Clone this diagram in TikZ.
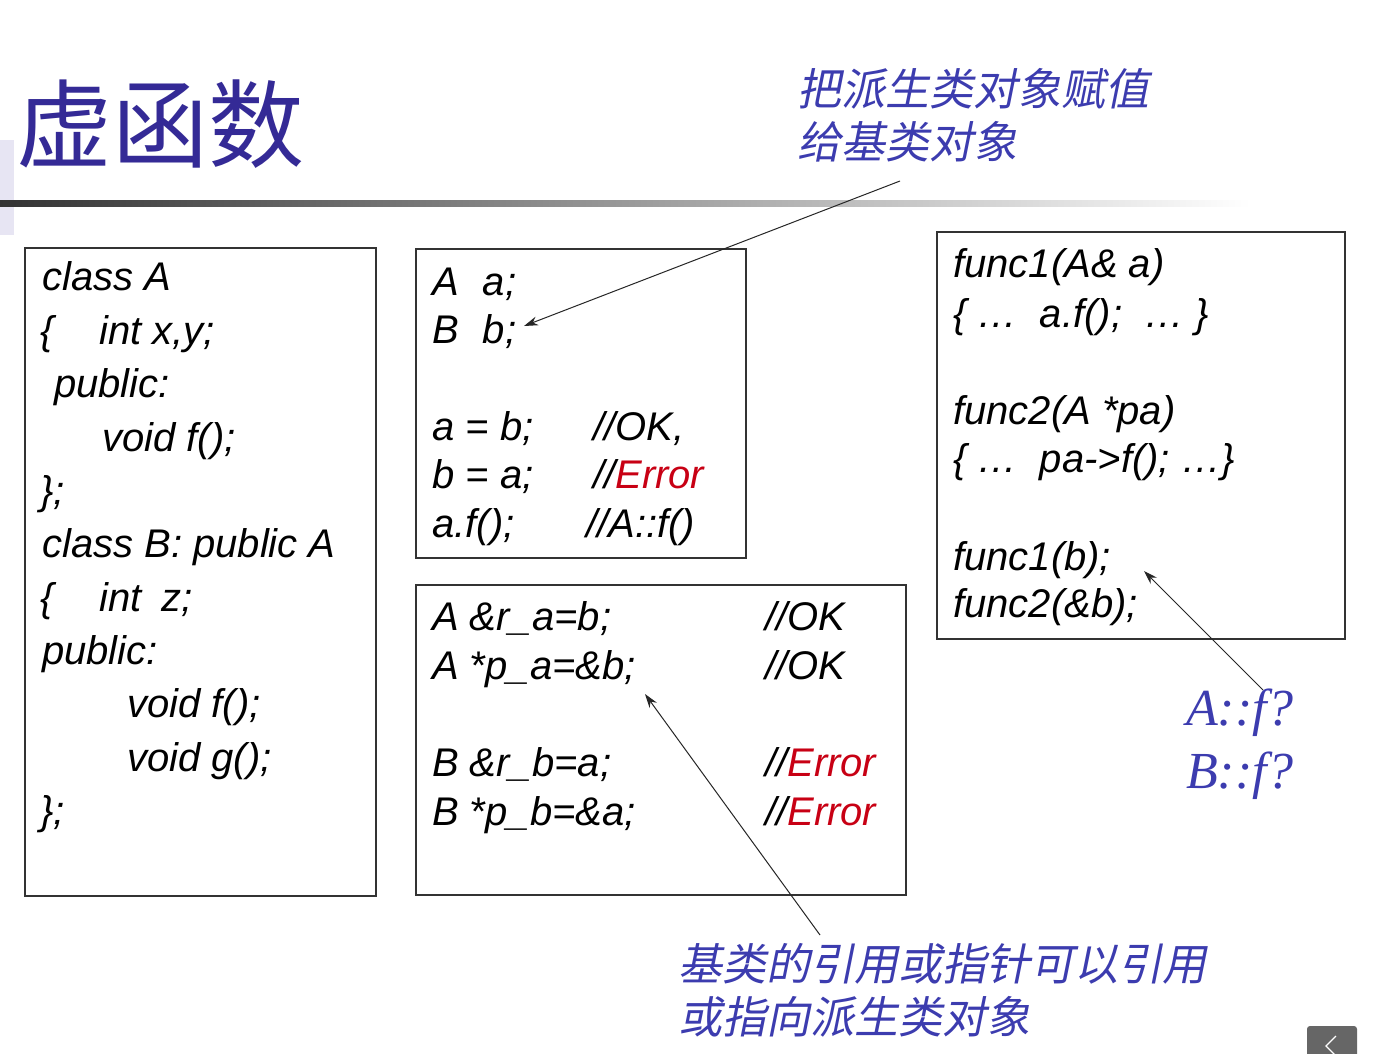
\documentclass[tikz,border=0pt]{standalone}
\usepackage{fontspec}
\usetikzlibrary{arrows.meta}
\setmainfont{Liberation Sans}
\newfontfamily\cjk{Noto Sans CJK SC}
\newfontfamily\cjkit[FakeSlant=0.2]{Noto Sans CJK SC}
\newfontfamily\serifit{Liberation Serif}
\definecolor{ttl}{RGB}{52,42,150}
\definecolor{ann}{RGB}{60,60,175}
\definecolor{err}{RGB}{200,0,20}
\begin{document}
\begin{tikzpicture}[x=1pt,y=-1pt,
  code/.style={anchor=base west,inner sep=0pt,font=\fontsize{40}{42}\selectfont\itshape},
  box/.style={draw=black!80,line width=1.2pt},
  cn/.style={anchor=base west,inner sep=0pt,text=ann,font=\fontsize{44}{46}\selectfont\cjkit},
  arr/.style={draw=black!85,line width=1pt,-{Stealth[length=14pt,width=9pt]}}]
\useasboundingbox (0,0) rectangle (1374,1053);
\fill[white] (0,0) rectangle (1374,1053);
\fill[ttl!12] (0,140) rectangle (14,235);
\node[anchor=base west,inner sep=0pt,text=ttl,font=\fontsize{96}{100}\selectfont\cjk] (title) at (16,160) {虚函数};
\shade[left color=black!80,right color=white] (0,200) rectangle (1250,206);
% boxes
\draw[box] (25,248) rectangle (376,896);
\draw[box] (416,249) rectangle (746,558);
\draw[box] (416,585) rectangle (906,895);
\draw[box] (937,232) rectangle (1345,639);
% left box
\node[code] (l1) at (42,290) {class A};
\node[code] (l2) at (40,344) {\{\hspace{46pt}int x,y;};
\node[code] (l3) at (54,397) {public:};
\node[code] (l4) at (102,451) {void f();};
\node[code] (l5) at (40,504) {\};};
\node[code] (l6) at (42,557) {class B: public A};
\node[code] (l7) at (40,611) {\{\hspace{46pt}int\hspace{20pt}z;};
\node[code] (l8) at (42,664) {public:};
\node[code] (l9) at (127,717) {void f();};
\node[code] (l10) at (127,771) {void g();};
\node[code] (l11) at (40,824) {\};};
% middle top
\node[code] (m1) at (432,295) {A\hspace{24pt}a;};
\node[code] (m2) at (432,343) {B\hspace{24pt}b;};
\node[code] (m3) at (432,440) {a = b;};
\node[code] (m4) at (432,488) {b = a;};
\node[code] (m5) at (432,537) {a.f();};
\node[code] (c3) at (593,440) {//OK,};
\node[code] (c4) at (593,488) {//\textcolor{err}{Error}};
\node[code] (c5) at (586,537) {//A::f()};
% middle bottom
\node[code] (n1) at (432,630) {A \&r\_a=b;};
\node[code] (n2) at (432,679) {A *p\_a=\&b;};
\node[code] (n3) at (432,776) {B \&r\_b=a;};
\node[code] (n4) at (432,825) {B *p\_b=\&a;};
\node[code] (d1) at (765,630) {//OK};
\node[code] (d2) at (765,679) {//OK};
\node[code] (d3) at (765,776) {//\textcolor{err}{Error}};
\node[code] (d4) at (765,825) {//\textcolor{err}{Error}};
% right box
\node[code] (r1) at (953,277) {func1(A\& a)};
\node[code] (r2) at (953,327) {\{ \dots\ \ a.f();\ \ \dots\ \}};
\node[code] (r3) at (953,424) {func2(A *pa)};
\node[code] (r4) at (953,472) {\{ \dots\ \ pa->f(); \dots\}};
\node[code] (r5) at (953,570) {func1(b);};
\node[code] (r6) at (953,617) {func2(\&b);};
% annotations
\node[cn] (t1) at (797,105) {把派生类对象赋值};
\node[cn] (t2) at (797,158) {给基类对象};
\node[cn] (b1) at (678,980) {基类的引用或指针可以引用};
\node[cn] (b2) at (678,1033) {或指向派生类对象};
\node[anchor=base west,inner sep=0pt,text=ann,font=\fontsize{52}{54}\selectfont\serifit\itshape] (q1) at (1186,725) {A::f?};
\node[anchor=base west,inner sep=0pt,text=ann,font=\fontsize{52}{54}\selectfont\serifit\itshape] (q2) at (1186,788) {B::f?};
% arrows
\coordinate (s1) at (900,181);
\coordinate (e1) at (524,326);
\coordinate (s2) at (820,935);
\coordinate (e2) at (645,694);
\coordinate (s3) at (1263,690);
\coordinate (e3) at (1144,571);
\draw[arr] (s1) -- (e1);
\draw[arr] (s2) -- (e2);
\draw[arr] (s3) -- (e3);
% button
\fill[black!60,rounded corners=3pt] (1307,1026) rectangle (1357,1060);
\draw[white,line width=1.2pt] (1336,1036) -- (1326,1046) -- (1336,1056);
\end{tikzpicture}
\end{document}
